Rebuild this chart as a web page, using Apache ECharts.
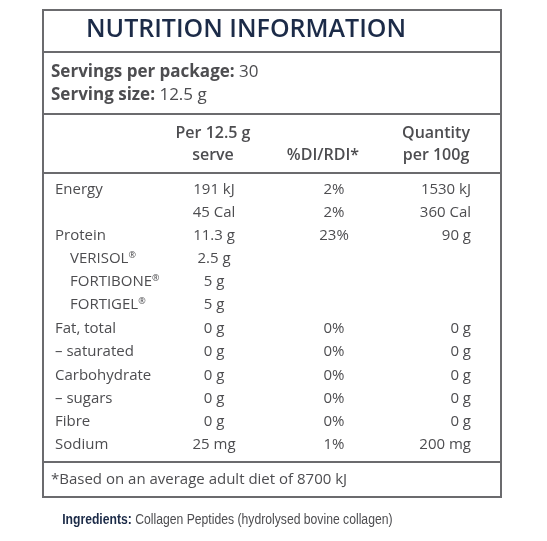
<!DOCTYPE html><html><head><meta charset="utf-8"><script src="https://cdn.jsdelivr.net/npm/echarts@6/dist/echarts.min.js"></script>
<style>html,body{margin:0;background:#fff}#c{width:547px;height:541px}</style></head><body><div id="c"></div><script>
const nutrients=["Energy","","Protein","VERISOL®","FORTIBONE®","FORTIGEL®","Fat, total","– saturated","Carbohydrate","– sugars","Fibre","Sodium"];
const indent=[0,0,0,1,1,1,0,0,0,0,0,0];
const perServe=["191 kJ","45 Cal","11.3 g","2.5 g","5 g","5 g","0 g","0 g","0 g","0 g","0 g","25 mg"];
const pctDI=["2%","2%","23%","","","","0%","0%","0%","0%","0%","1%"];
const per100=["1530 kJ","360 Cal","90 g","","","","0 g","0 g","0 g","0 g","0 g","200 mg"];
const rowY=[190,213,236,259,282,305,329,352,376,399,422,445];
const F='"Open Sans", Lato, sans-serif', G='#4d4d50', N='#1c2b48';
const els=[];
function t(x,y,text,o){els.push({type:'text',x,y,style:Object.assign({text,fill:G,font:'15px '+F,textVerticalAlign:'middle'},o||{})});}
function l(x1,y1,x2,y2,w){els.push({type:'line',shape:{x1,y1,x2,y2},style:{stroke:'#6b6b6e',lineWidth:w||2}});}
els.push({type:'rect',shape:{x:43,y:10,width:458,height:487},style:{fill:'none',stroke:'#6b6b6e',lineWidth:2}});
l(43,52,501,52);l(43,114,501,114);l(43,173,501,173);l(43,462,501,462);
t(86,30,'NUTRITION INFORMATION',{fill:N,font:'600 25px '+F});
els.push({type:'text',x:51,y:72,style:{text:'{b|Servings per package:} 30',fill:G,font:'17px '+F,textVerticalAlign:'middle',rich:{b:{fontWeight:'bold',fontSize:17,fontFamily:F,fill:G}}}});
els.push({type:'text',x:51,y:95,style:{text:'{b|Serving size:} 12.5 g',fill:G,font:'17px '+F,textVerticalAlign:'middle',rich:{b:{fontWeight:'bold',fontSize:17,fontFamily:F,fill:G}}}});
const hb={font:'600 16px '+F,textAlign:'center'};
t(213,133,'Per 12.5 g',hb);t(213,155,'serve',hb);t(323,155,'%DI/RDI*',hb);t(436,133,'Quantity',hb);t(436,155,'per 100g',hb);
nutrients.forEach((n,i)=>{const y=rowY[i];
 if(n){const m=n.match(/^(.*?)(®)?$/);els.push({type:'text',x:indent[i]?70:55,y,style:{text:m[2]?m[1]+'{s|®}':n,fill:G,font:'15px '+F,textVerticalAlign:'middle',rich:{s:{fontSize:9,fontFamily:F,fill:G,verticalAlign:'top',padding:[0,0,8,0]}}}});}
 t(214,y,perServe[i],{textAlign:'center'});t(334,y,pctDI[i],{textAlign:'center'});t(471,y,per100[i],{textAlign:'right'});});
t(51,480,'*Based on an average adult diet of 8700 kJ');
const NF='"Liberation Sans", sans-serif';
els.push({type:'text',x:55,y:520,scaleX:0.87,originX:55,originY:520,style:{text:'{b|Ingredients:} Collagen Peptides (hydrolysed bovine collagen)',fill:G,font:'14px '+NF,textVerticalAlign:'middle',rich:{b:{fontWeight:'bold',fontSize:14,fontFamily:NF,fill:N}}}});
echarts.init(document.getElementById('c')).setOption({graphic:{elements:els}});
</script></body></html>
